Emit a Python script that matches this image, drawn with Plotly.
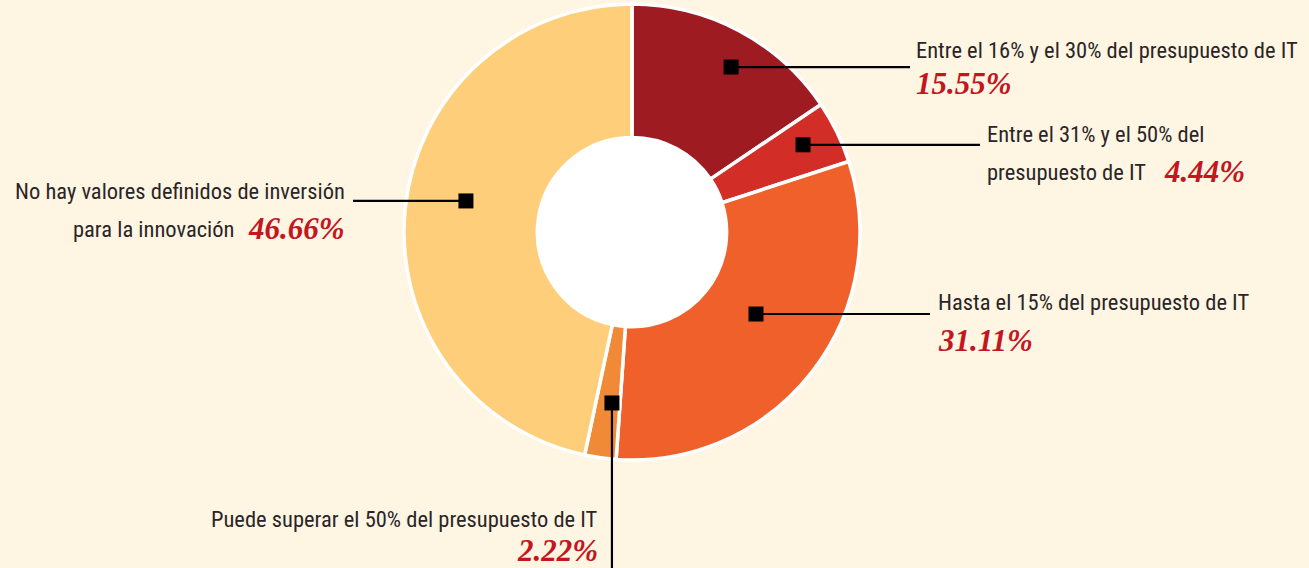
import math
import plotly.graph_objects as go

# ---- data ----
categories = [
    "Entre el 16% y el 30% del presupuesto de IT",
    "Entre el 31% y el 50% del presupuesto de IT",
    "Hasta el 15% del presupuesto de IT",
    "Puede superar el 50% del presupuesto de IT",
    "No hay valores definidos de inversión para la innovación",
]
values = [15.55, 4.44, 31.11, 2.22, 46.66]
pct_labels = ["15.55%", "4.44%", "31.11%", "2.22%", "46.66%"]

# ---- style ----
colors = ["#9E1B21", "#D22E27", "#F0602B", "#F08A36", "#FFCE7A"]
BG = "#FFF5E3"
W, H = 1309, 568
CX, CY, R = 632, 232, 228          # donut centre / radius in px
HOLE = 0.415
marker_r = [0.844, 0.842, 0.652, 0.755, 0.741]   # radius fraction for square markers
marker_da = [3.0, -1.0, -4.5, -1.3, 4.6]         # angular nudge (deg) for markers
line_end = [(910, None), (980, None), (930, None), (None, 568), (353, None)]
SQ = 7.5
LABEL_FONT = "Roboto Condensed, Liberation Sans Narrow, DejaVu Sans Condensed, sans-serif"
PCT_FONT = "Liberation Serif, Times New Roman, serif"
PCT_COLOR = "#C3161E"

fig = go.Figure()
# white hole
rin = HOLE * R
fig.add_shape(type="circle", xref="x", yref="y", x0=CX - rin, x1=CX + rin,
              y0=CY - rin, y1=CY + rin, fillcolor="white", line=dict(width=0), layer="below")
fig.add_trace(go.Pie(
    values=values, labels=categories, sort=False, direction="clockwise",
    rotation=0, hole=HOLE, textinfo="none", hoverinfo="label+percent",
    marker=dict(colors=colors, line=dict(color="white", width=3.5)),
    domain=dict(x=[(CX - R) / W, (CX + R) / W], y=[(H - CY - R) / H, (H - CY + R) / H]),
    showlegend=False,
))

# marker positions from the data (slice mid-angles)
total = sum(values)
cum = 0
mx, my = [], []
for v, f, da in zip(values, marker_r, marker_da):
    a = (cum + v / 2) / total * 2 * math.pi + math.radians(da)
    cum += v
    mx.append(CX + R * f * math.sin(a))
    my.append(CY - R * f * math.cos(a))

for i in range(len(values)):
    ex, ey = line_end[i]
    x1 = ex if ex is not None else mx[i]
    y1 = ey if ey is not None else my[i]
    fig.add_shape(type="line", xref="x", yref="y", x0=mx[i], y0=my[i], x1=x1, y1=y1,
                  line=dict(color="black", width=2.2), layer="above")
    fig.add_shape(type="rect", xref="x", yref="y", x0=mx[i] - SQ, x1=mx[i] + SQ,
                  y0=my[i] - SQ, y1=my[i] + SQ, fillcolor="black",
                  line=dict(width=0), layer="above")

def lab(x, y, text, anchor="left", size=22.5):
    fig.add_annotation(x=x, y=y, xref="x", yref="y", text=text, showarrow=False,
                       xanchor=anchor, yanchor="middle",
                       font=dict(family=LABEL_FONT, size=size, color="#2A2627"))

def pct(x, y, text, anchor="left"):
    fig.add_annotation(x=x, y=y, xref="x", yref="y", text=text, showarrow=False,
                       xanchor=anchor, yanchor="middle",
                       font=dict(family=PCT_FONT, size=31, color=PCT_COLOR,
                                 weight="bold", style="italic"))

lab(914, 50, "Entre el 16% y el 30% del presupuesto de IT")
pct(914, 83, pct_labels[0])
lab(985, 134, "Entre el 31% y el 50% del")
lab(985, 172, "presupuesto de IT")
pct(1162, 171, pct_labels[1])
lab(936, 302, "Hasta el 15% del presupuesto de IT")
pct(936, 340, pct_labels[2])
lab(347, 191, "No hay valores definidos de inversión", anchor="right")
lab(236, 229, "para la innovación", anchor="right")
pct(347, 228, pct_labels[4], anchor="right")
lab(600, 519, "Puede superar el 50% del presupuesto de IT", anchor="right")
pct(600, 550, pct_labels[3], anchor="right")

fig.update_layout(
    width=W, height=H, margin=dict(l=0, r=0, t=0, b=0),
    paper_bgcolor=BG, plot_bgcolor="rgba(0,0,0,0)",
    xaxis=dict(range=[0, W], visible=False, fixedrange=True),
    yaxis=dict(range=[H, 0], visible=False, fixedrange=True),
)
fig.write_html("out.html", config={"displayModeBar": False},
               post_script="document.body.style.margin='0';document.body.style.overflow='hidden';")
